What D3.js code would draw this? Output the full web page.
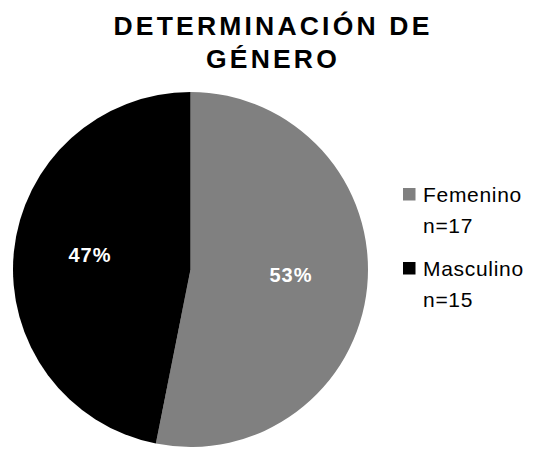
<!DOCTYPE html>
<html>
<head>
<meta charset="utf-8">
<script src="https://cdn.jsdelivr.net/npm/d3@7"></script>
<style>
  body { margin: 0; background: #fff; }
  svg { font-family: 'Liberation Sans', Arial, sans-serif; }
</style>
</head>
<body>
<div id="chart"></div>
<script>
const titleLines = ['DETERMINACIÓN DE', 'GÉNERO'];
const categories = ['Femenino', 'Masculino'];
const counts = [17, 15];
const pctLabels = ['53%', '47%'];
const colors = ['#808080', '#000000'];

const width = 536;
const height = 450;
const cx = 190.5;
const cy = 269.5;
const radius = 177.5;

const svg = d3.select('#chart')
  .append('svg')
  .attr('width', width)
  .attr('height', height);

// title
svg.append('g')
  .selectAll('text')
  .data(titleLines)
  .enter()
  .append('text')
  .attr('x', 273)
  .attr('y', (d, i) => 35 + i * 33)
  .attr('text-anchor', 'middle')
  .style('font-size', '26.5px')
  .style('font-weight', 'bold')
  .style('letter-spacing', '3.2px')
  .text((d) => d);

const data = categories.map((c, i) => ({ name: c, n: counts[i], label: pctLabels[i], color: colors[i] }));

const pie = d3.pie().sort(null).value((d) => d.n);
const arc = d3.arc().innerRadius(0).outerRadius(radius);
const labelArc = d3.arc().innerRadius(101).outerRadius(101);

const g = svg.append('g').attr('transform', `translate(${cx},${cy})`);
const arcs = pie(data);

g.selectAll('path')
  .data(arcs)
  .enter()
  .append('path')
  .attr('d', arc)
  .style('fill', (d) => d.data.color);

// percentage labels, nudged up a little like the original
g.selectAll('text')
  .data(arcs)
  .enter()
  .append('text')
  .attr('transform', (d) => {
    const [x, y] = labelArc.centroid(d);
    return `translate(${x},${y - 5})`;
  })
  .attr('text-anchor', 'middle')
  .attr('dy', '0.36em')
  .style('fill', '#fff')
  .style('font-size', '20px')
  .style('font-weight', 'bold')
  .style('letter-spacing', '1px')
  .text((d) => d.data.label);

// legend
const legend = svg.append('g')
  .selectAll('g')
  .data(data)
  .enter()
  .append('g')
  .attr('transform', (d, i) => `translate(403,${188 + i * 74})`);

legend.append('rect')
  .attr('width', 12.5)
  .attr('height', 12.5)
  .style('fill', (d) => d.color);

legend.append('text')
  .attr('x', 20)
  .attr('y', 14)
  .style('font-size', '21px')
  .style('letter-spacing', '0.7px')
  .text((d) => d.name);

legend.append('text')
  .attr('x', 20)
  .attr('y', 45)
  .style('font-size', '21px')
  .style('letter-spacing', '0.7px')
  .text((d) => `n=${d.n}`);
</script>
</body>
</html>
